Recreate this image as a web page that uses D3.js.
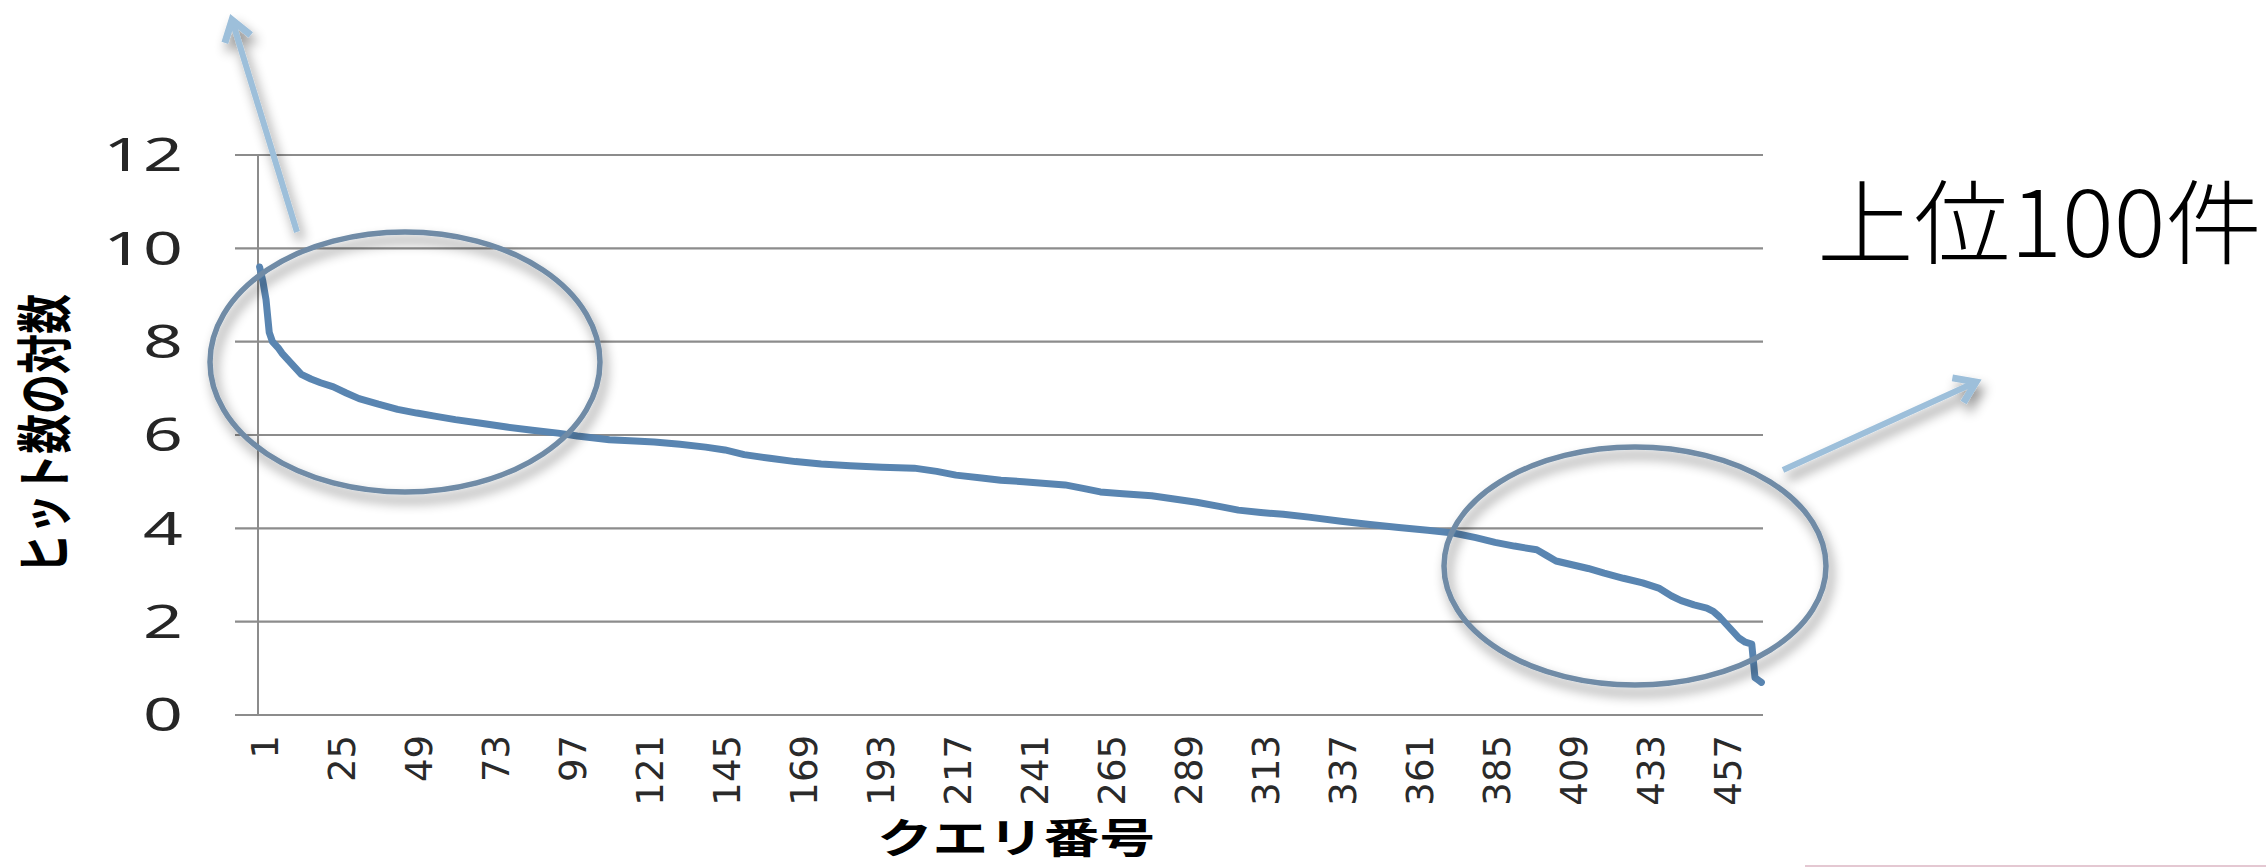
<!DOCTYPE html>
<meta charset="utf-8">

<!-- Load d3.js -->
<script src="https://d3js.org/d3.v7.min.js"></script>
<style>
  body { margin: 0; background: #fff; }
</style>

<div id="my_dataviz"></div>
<script>

  // query numbers and log(hit count)
  var queries = [
    1, 2, 3, 4, 5, 7, 8, 10, 12, 14,
    17, 20, 24, 28, 32, 38, 44, 50, 56, 62,
    70, 78, 86, 94, 100, 110, 118, 124, 132, 140,
    146, 152, 160, 168, 176, 185, 195, 205, 212, 218,
    226, 232, 239, 246, 252, 258, 263, 270, 279, 286,
    293, 300, 306, 313, 320, 328, 338, 347, 356, 365,
    373, 380, 386, 392, 399, 402, 405, 410, 415, 420,
    426, 432, 437, 441, 444, 448, 452, 454, 456, 458,
    460, 462, 464, 466, 467, 468, 469
  ];
  var logHits = [
    9.6, 9.3, 8.9, 8.2, 8.0, 7.85, 7.75, 7.6, 7.45, 7.3,
    7.2, 7.12, 7.03, 6.9, 6.78, 6.66, 6.55, 6.47, 6.4, 6.33,
    6.25, 6.17, 6.1, 6.04, 5.98, 5.9, 5.87, 5.85, 5.8, 5.74,
    5.68, 5.58, 5.5, 5.43, 5.38, 5.34, 5.31, 5.29, 5.22, 5.14,
    5.08, 5.03, 5.0, 4.96, 4.93, 4.85, 4.78, 4.74, 4.7, 4.63,
    4.56, 4.47, 4.39, 4.34, 4.3, 4.24, 4.15, 4.08, 4.02, 3.96,
    3.9, 3.8, 3.7, 3.62, 3.54, 3.42, 3.3, 3.22, 3.14, 3.04,
    2.93, 2.83, 2.72, 2.55, 2.45, 2.36, 2.29, 2.22, 2.1, 1.95,
    1.8, 1.65, 1.56, 1.52, 0.8, 0.75, 0.7
  ];
  var nQueries = 469;
  var xTickLabels = [1, 25, 49, 73, 97, 121, 145, 169, 193, 217, 241, 265, 289, 313, 337, 361, 385, 409, 433, 457];
  var yTicks = [0, 2, 4, 6, 8, 10, 12];
  var yTitle = "ヒット数の対数";
  var xTitle = "クエリ番号";
  var note = "上位100件";

  var data = queries.map(function(q, i) { return {q: q, v: logHits[i]}; });

  var W = 2266, H = 868;
  var svg = d3.select("#my_dataviz")
    .append("svg")
      .attr("width", W)
      .attr("height", H);

  // shadow used by the circles and arrows
  var defs = svg.append("defs");
  var f = defs.append("filter").attr("id", "shadow")
    .attr("x", "-20%").attr("y", "-20%").attr("width", "140%").attr("height", "150%");
  f.append("feDropShadow")
    .attr("dx", 4).attr("dy", 8).attr("stdDeviation", 6)
    .attr("flood-color", "#000").attr("flood-opacity", 0.45);

  // scales
  var x = d3.scaleLinear().domain([0.5, nQueries + 0.5]).range([258, 1763]);
  var y = d3.scaleLinear().domain([0, 12]).range([715, 155]);

  // gridlines (they also make the y tick marks)
  svg.append("g")
    .selectAll("line")
    .data(yTicks)
    .enter()
    .append("line")
      .attr("x1", 235)
      .attr("x2", x.range()[1])
      .attr("y1", function(d) { return y(d); })
      .attr("y2", function(d) { return y(d); })
      .attr("stroke", "#8c8c8c")
      .attr("stroke-width", 2.2);

  // vertical axis line
  svg.append("line")
    .attr("x1", x.range()[0]).attr("x2", x.range()[0])
    .attr("y1", y(12)).attr("y2", y(0))
    .attr("stroke", "#8c8c8c")
    .attr("stroke-width", 2);

  // y tick labels
  svg.append("g")
    .selectAll("text")
    .data(yTicks)
    .enter()
    .append("text")
      .attr("transform", function(d) { return "translate(183," + y(d) + ") scale(1.55,1)"; })
      .attr("dy", "0.36em")
      .attr("text-anchor", "end")
      .style("font-family", "'Noto Sans', sans-serif")
      .style("font-size", "45px")
      .attr("fill", "#262626")
      .text(function(d) { return d; });

  // x tick labels, rotated
  svg.append("g")
    .selectAll("text")
    .data(xTickLabels)
    .enter()
    .append("text")
      .attr("transform", function(d) { return "translate(" + (x(d) + 5) + ",735) rotate(-90)"; })
      .attr("dy", "0.36em")
      .attr("text-anchor", "end")
      .style("font-family", "'DejaVu Sans', sans-serif")
      .style("font-size", "37px")
      .attr("fill", "#2a2a2a")
      .text(function(d) { return d; });

  // axis titles
  svg.append("text")
    .attr("transform", "translate(45,434) scale(1.4,1) rotate(-90)")
    .attr("dy", "0.36em")
    .attr("text-anchor", "middle")
    .style("font-family", "'Noto Sans CJK JP', sans-serif")
    .style("font-weight", "bold")
    .style("font-size", "40px")
    .text(yTitle);

  svg.append("text")
    .attr("x", 877)
    .attr("y", 853)
    .attr("textLength", 278)
    .attr("lengthAdjust", "spacingAndGlyphs")
    .style("font-family", "'Noto Sans CJK JP', sans-serif")
    .style("font-weight", "bold")
    .style("font-size", "41px")
    .text(xTitle);

  // the line
  var line = d3.line()
    .x(function(d) { return x(d.q); })
    .y(function(d) { return y(d.v); });

  svg.append("path")
    .datum(data)
    .attr("d", line)
    .attr("fill", "none")
    .attr("stroke", "#5985b1")
    .attr("stroke-width", 7)
    .attr("stroke-linejoin", "round")
    .attr("stroke-linecap", "round");

  // circles round the head and the tail
  var rings = [
    {cx: 405, cy: 362, rx: 195, ry: 130},
    {cx: 1635, cy: 566, rx: 191, ry: 119}
  ];
  svg.append("g")
    .selectAll("ellipse")
    .data(rings)
    .enter()
    .append("ellipse")
      .attr("cx", function(d) { return d.cx; })
      .attr("cy", function(d) { return d.cy; })
      .attr("rx", function(d) { return d.rx; })
      .attr("ry", function(d) { return d.ry; })
      .attr("fill", "none")
      .attr("stroke", "#6f8ba6")
      .attr("stroke-width", 5.5)
      .attr("filter", "url(#shadow)");

  // arrows
  var arrows = [
    {x1: 297, y1: 232, x2: 232, y2: 20},
    {x1: 1783, y1: 470, x2: 1976, y2: 382}
  ];
  var ag = svg.append("g").attr("filter", "url(#shadow)");
  arrows.forEach(function(a) {
    var ang = Math.atan2(a.y2 - a.y1, a.x2 - a.x1);
    var L = 24, spread = 0.6;
    var p1 = [a.x2 - L * Math.cos(ang - spread), a.y2 - L * Math.sin(ang - spread)];
    var p2 = [a.x2 - L * Math.cos(ang + spread), a.y2 - L * Math.sin(ang + spread)];
    ag.append("line")
      .attr("x1", a.x1).attr("y1", a.y1)
      .attr("x2", a.x2).attr("y2", a.y2)
      .attr("stroke", "#9dbfda")
      .attr("stroke-width", 6);
    ag.append("path")
      .attr("d", "M" + p1 + "L" + a.x2 + "," + a.y2 + "L" + p2)
      .attr("fill", "none")
      .attr("stroke", "#9dbfda")
      .attr("stroke-width", 7)
      .attr("stroke-linejoin", "miter");
  });

  // note text
  svg.append("text")
    .attr("x", 1817)
    .attr("y", 257)
    .attr("textLength", 445)
    .attr("lengthAdjust", "spacingAndGlyphs")
    .style("font-family", "'Noto Sans CJK JP', sans-serif")
    .style("font-weight", 300)
    .style("font-size", "92px")
    .attr("fill", "#000")
    .text(note);

  // thin line bottom right
  svg.append("line")
    .attr("x1", 1805).attr("x2", W)
    .attr("y1", 866).attr("y2", 866)
    .attr("stroke", "#e4c8d2")
    .attr("stroke-width", 2);

</script>
